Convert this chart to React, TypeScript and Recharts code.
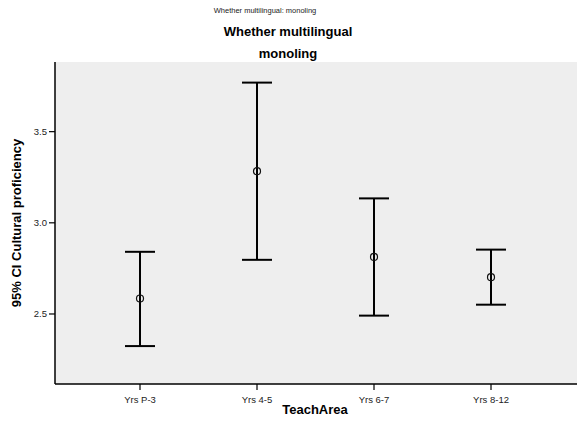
import React from 'react';
import { ComposedChart, Scatter, ErrorBar, XAxis, YAxis, CartesianGrid, Customized } from 'recharts';

const categories = ['Yrs P-3', 'Yrs 4-5', 'Yrs 6-7', 'Yrs 8-12'];
const means = [2.585, 3.283, 2.813, 2.702];
const lowers = [2.324, 2.797, 2.491, 2.551];
const uppers = [2.841, 3.769, 3.134, 2.853];
const yTicks = [2.5, 3.0, 3.5];
const xTicks = [1, 2, 3, 4];

const data = categories.map((c, i) => ({
  x: i + 1,
  mean: means[i],
  err: [means[i] - lowers[i], uppers[i] - means[i]],
}));

const FONT = '"Liberation Sans", Arial, sans-serif';

const Hollow = (props: any) => (
  <circle cx={props.cx} cy={props.cy} r={3.5} fill="none" stroke="#111" strokeWidth={1.2} />
);

const Titles = () => (
  <g fontFamily={FONT}>
    <text x={265} y={13} textAnchor="middle" fontSize={7.5} fill="#222">Whether multilingual: monoling</text>
    <text x={288} y={36} textAnchor="middle" fontSize={13} fontWeight="bold" fill="#000">Whether multilingual</text>
    <text x={288} y={58} textAnchor="middle" fontSize={13} fontWeight="bold" fill="#000">monoling</text>
    <text x={315} y={414} textAnchor="middle" fontSize={13} fontWeight="bold" fill="#000">TeachArea</text>
    <text x={21} y={223} textAnchor="middle" fontSize={13} fontWeight="bold" fill="#000" transform="rotate(-90 21 223)">95% CI Cultural proficiency</text>
  </g>
);

export default function App() {
  return (
    <div style={{ position: 'absolute', left: 0, top: 0, width: 577, height: 432, background: '#fff' }}>
      <ComposedChart width={577} height={432} data={data} margin={{ top: 62, right: 0, bottom: 0, left: 0 }}>
        <CartesianGrid horizontal={false} vertical={false} fill="#eeeeee" />
        <XAxis
          xAxisId="top"
          orientation="top"
          dataKey="x"
          type="number"
          domain={[0.2735, 4.735]}
          height={0}
          tick={false}
          tickLine={false}
          axisLine={{ stroke: '#000', strokeWidth: 1.5 }}
        />
        <XAxis
          dataKey="x"
          type="number"
          domain={[0.2735, 4.735]}
          ticks={xTicks}
          tickFormatter={(v: number) => categories[v - 1]}
          height={48}
          tickSize={6}
          tickMargin={6}
          allowDataOverflow
          axisLine={{ stroke: '#000', strokeWidth: 1.5 }}
          tickLine={{ stroke: '#000', strokeWidth: 1.2 }}
          tick={{ fontSize: 9.5, fill: '#222', fontFamily: FONT }}
        />
        <YAxis
          type="number"
          domain={[2.116, 3.882]}
          ticks={yTicks}
          tickFormatter={(v: number) => v.toFixed(1)}
          width={55}
          allowDataOverflow
          tickSize={6}
          tickMargin={2}
          axisLine={{ stroke: '#000', strokeWidth: 1.5 }}
          tickLine={{ stroke: '#000', strokeWidth: 1.2 }}
          tick={{ fontSize: 9.5, fill: '#222', fontFamily: FONT }}
        />
        <Scatter dataKey="mean" shape={Hollow} isAnimationActive={false}>
          <ErrorBar dataKey="err" direction="y" width={15} stroke="#000" strokeWidth={2} isAnimationActive={false} />
        </Scatter>
        <Customized component={Titles} />
      </ComposedChart>
    </div>
  );
}
